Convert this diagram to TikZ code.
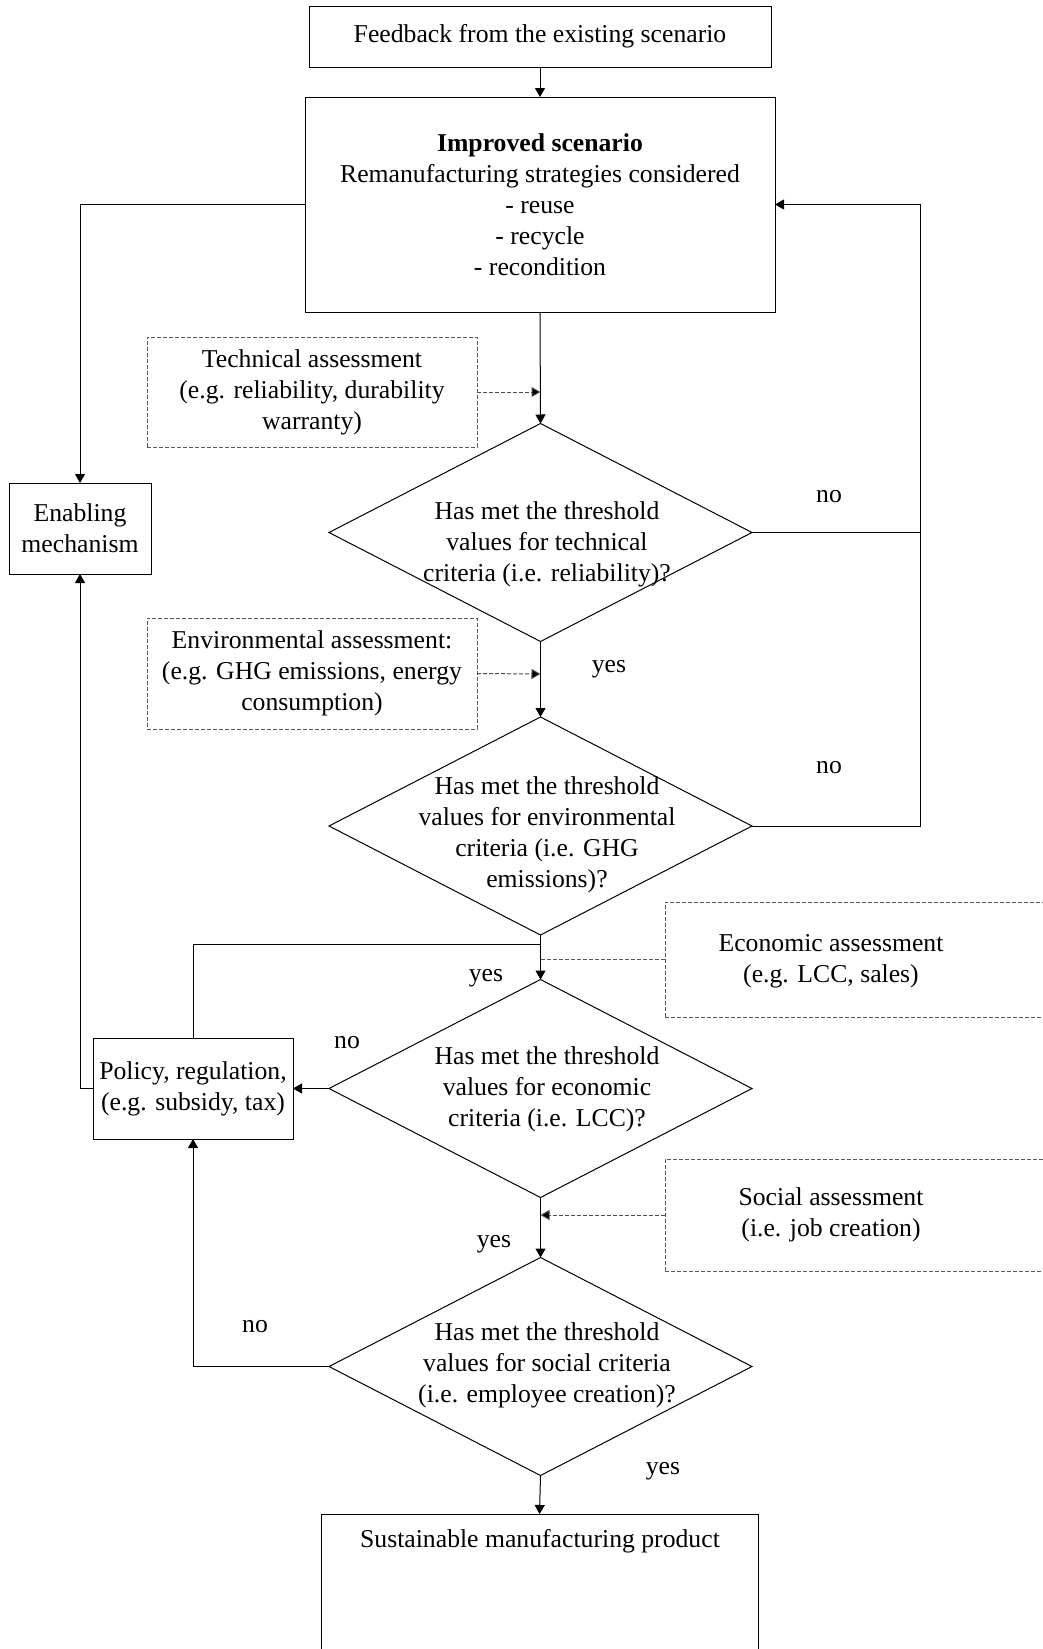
\documentclass[tikz,border=0pt]{standalone}
\usepackage{fontspec}
\setmainfont{Liberation Serif}
\usetikzlibrary{shapes.geometric,arrows.meta}
\begin{document}
\begin{tikzpicture}[x=0.5pt,y=-0.5pt,
  every node/.style={font=\fontsize{12.85}{15.5}\selectfont},
  box/.style={draw, line width=0.5pt, inner sep=0pt, outer sep=0pt, align=center},
  dbox/.style={draw=black!65, dash pattern=on 2pt off 1pt, line width=0.5pt, inner sep=0pt, outer sep=0pt, align=center},
  dia/.style={draw, diamond, line width=0.5pt, inner sep=0pt, outer sep=0pt, minimum width=211.5pt, minimum height=109pt},
  txt/.style={inner sep=0pt, align=center},
  ln/.style={line width=0.5pt},
  arr/.style={line width=0.5pt, -{Triangle[length=4.5pt,width=5pt]}},
  darr/.style={draw=black!70, line width=0.5pt, dash pattern=on 2pt off 1pt, -{Triangle[length=4.5pt,width=5pt,fill=black]}},
  dln/.style={draw=black!65, line width=0.5pt, dash pattern=on 2pt off 1pt},
]
\useasboundingbox (0,0) rectangle (1043,1649);
\clip (0,0) rectangle (1043,1649);

% boxes
\node[box, minimum width=231pt, minimum height=30.5pt] (fb) at (540,36.5) {Feedback from the existing scenario};
\node[box, minimum width=235pt, minimum height=107.5pt] (imp) at (540,204.5)
  {\textbf{Improved scenario}\\Remanufacturing strategies considered\\- reuse\\- recycle\\- recondition};
\node[box, minimum width=71pt, minimum height=45.5pt] (enab) at (80,528.5) {Enabling\\mechanism};
\node[dbox, minimum width=165pt, minimum height=55pt] (tech) at (312,392)
  {Technical assessment\\(e.g. reliability, durability\\warranty)};
\node[dbox, minimum width=165pt, minimum height=55.5pt] (env) at (312,673.5)
  {Environmental assessment:\\(e.g. GHG emissions, energy\\consumption)};
\node[dbox, minimum width=192.5pt, minimum height=57.5pt] (econ) at (857.5,959.5) {};
\node[txt] (econt) at (831,961) {Economic assessment\\(e.g. LCC, sales)};
\node[dbox, minimum width=192.5pt, minimum height=56pt] (soc) at (857.5,1215) {};
\node[txt] (soct) at (831,1214.5) {Social assessment\\(i.e. job creation)};
\node[box, minimum width=100pt, minimum height=50.5pt] (pol) at (193,1088.5) {Policy, regulation,\\(e.g. subsidy, tax)};
\node[box, minimum width=218.5pt, minimum height=78pt] (fin) at (539.5,1592) {};
\node[txt] (fint) at (540,1541) {Sustainable manufacturing product};

% diamonds
\node[dia] (d1) at (540.5,532.5) {};
\node[txt] (d1t) at (547,544) {Has met the threshold\\values for technical\\criteria (i.e. reliability)?};
\node[dia] (d2) at (540.5,826) {};
\node[txt] (d2t) at (547,834.5) {Has met the threshold\\values for environmental\\criteria (i.e. GHG\\emissions)?};
\node[dia] (d3) at (540.5,1088.5) {};
\node[txt] (d3t) at (547,1089) {Has met the threshold\\values for economic\\criteria (i.e. LCC)?};
\node[dia] (d4) at (540.5,1366.5) {};
\node[txt] (d4t) at (547,1365) {Has met the threshold\\values for social criteria\\(i.e. employee creation)?};

% labels
\node[txt] (no1) at (829,497) {no};
\node[txt] (no2) at (829,768) {no};
\node[txt] (no3) at (347,1043) {no};
\node[txt] (no4) at (255,1327) {no};
\node[txt] (y1) at (609,669) {yes};
\node[txt] (y2) at (486,978) {yes};
\node[txt] (y3) at (494,1244) {yes};
\node[txt] (y4) at (663,1471) {yes};

% helper coordinates
\coordinate (rt) at (920,204.5);
\coordinate (tc) at (540.5,392);
\coordinate (ec) at (540.5,674);
\coordinate (j1) at (540.5,944);
\coordinate (e1) at (540.5,959.5);
\coordinate (s1) at (540.5,1215);

% connectors
\draw[arr] (fb.south) -- (imp.north);
\draw[arr] (imp.west) -| (enab.north);
\draw[arr] (imp.south) -- (d1.north);
\draw[darr] (tech.east) -- (tc);
\draw[arr] (d1.east) -| (rt) -- (imp.east);
\draw[arr] (d1.south) -- (d2.north);
\draw[darr] (env.east) -- (ec);
\draw[ln] (d2.east) -| (rt |- d1.east);
\draw[arr] (d2.south) -- (d3.north);
\draw[dln] (econ.west) -- (e1);
\draw[ln] (j1) -| (pol.north);
\draw[arr] (d3.west) -- (pol.east);
\draw[arr] (pol.west) -| (enab.south);
\draw[arr] (d3.south) -- (d4.north);
\draw[darr] (soc.west) -- (s1);
\draw[arr] (d4.west) -| (pol.south);
\draw[arr] (d4.south) -- (fin.north);
\end{tikzpicture}
\end{document}
